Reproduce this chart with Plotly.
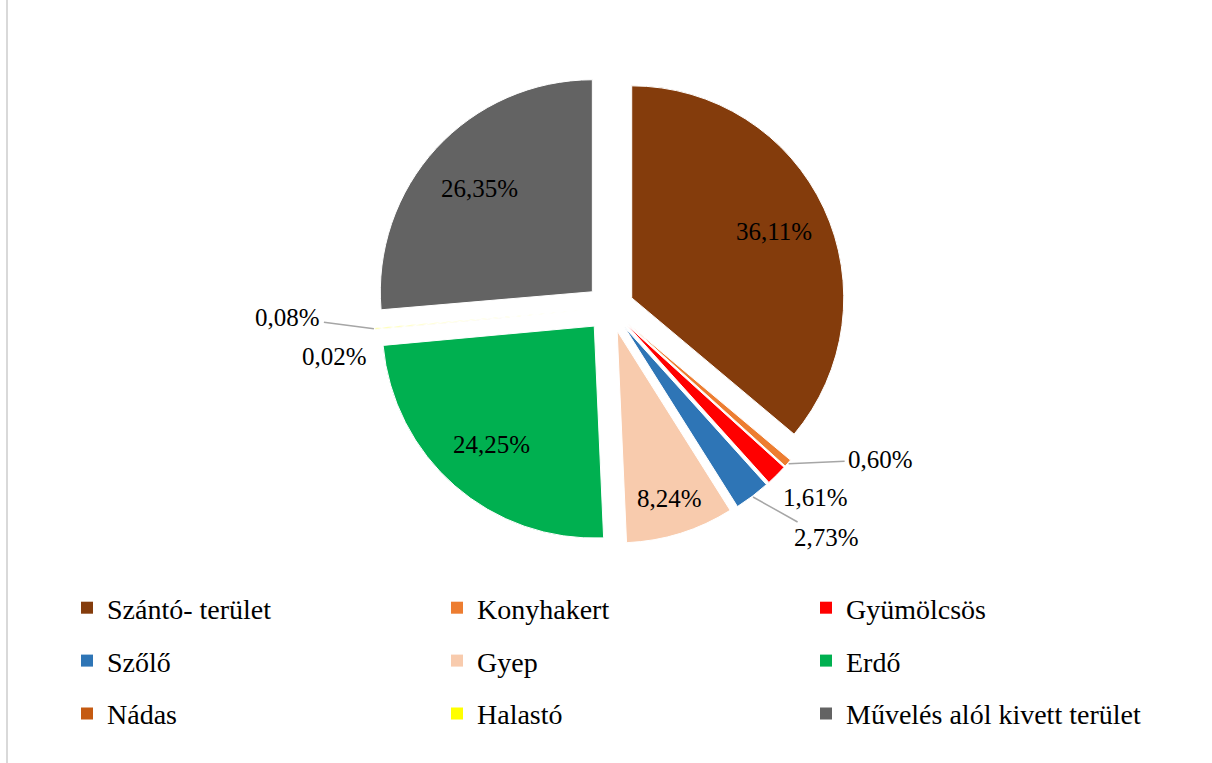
import math
import plotly.graph_objects as go

# land use categories and shares (%)
labels = ["Szántó- terület", "Konyhakert", "Gyümölcsös", "Szőlő", "Gyep", "Erdő",
          "Nádas", "Halastó", "Művelés alól kivett terület"]
values = [36.11, 0.60, 1.61, 2.73, 8.24, 24.25, 0.02, 0.08, 26.35]
colors = ["#843C0C", "#ED7D31", "#FF0000", "#2E75B6", "#F8CBAD", "#00B050",
          "#C55A11", "#FFFF00", "#636363"]

texts = [f"{v:.2f}".replace(".", ",") + "%" for v in values]

FONT = "Liberation Serif"
W, H = 1212, 763
PULL = 0.113
# pie box in pixels
X0, X1, Y0, Y1 = 374, 846, 72, 544
CX, CY = (X0 + X1) / 2, (Y0 + Y1) / 2
R = (X1 - X0) / (2 + 2 * PULL)

# label placement: inside ones by radius fraction, outside ones by pixel offset from slice tip
inside_r = {0: 0.74, 4: 0.83, 5: 0.74, 8: 0.72}
outside_off = {1: (92, -4, True), 2: (38, 22, False), 3: (73, 41, True),
               6: (-39, 27, False), 7: (-86, -11, True)}

fig = go.Figure()

fig.add_trace(go.Pie(
    labels=labels, values=values, text=texts, textinfo="none",
    marker=dict(colors=colors, line=dict(color="white", width=1)),
    sort=False, direction="clockwise", rotation=0,
    pull=[PULL] * len(values),
    domain=dict(x=[X0 / W, X1 / W], y=[1 - Y1 / H, 1 - Y0 / H]),
    showlegend=False, hoverinfo="label+text",
))

annotations = []
total = sum(values)
cum = 0
for i, v in enumerate(values):
    a = math.radians((cum + v / 2) / total * 360)
    cum += v
    sx, sy = math.sin(a), math.cos(a)
    if i in inside_r:
        d = R * PULL + R * inside_r[i]
        px, py = CX + d * sx, CY - d * sy
        annotations.append(dict(x=px / W, y=1 - py / H, xref="paper", yref="paper",
                                xanchor="center", yanchor="middle",
                                text=texts[i], showarrow=False,
                                font=dict(family=FONT, size=25, color="black")))
    else:
        d = R * (1 + PULL) + 1
        px, py = CX + d * sx, CY - d * sy
        ox, oy, arrow = outside_off[i]
        ann = dict(x=px / W, y=1 - py / H, xref="paper", yref="paper",
                   xanchor="center", yanchor="middle",
                   text=texts[i], font=dict(family=FONT, size=25, color="black"))
        if arrow:
            ann.update(showarrow=True, ax=ox, ay=oy, arrowhead=0, arrowwidth=1.5,
                       arrowcolor="#A6A6A6", standoff=0, startstandoff=2)
        else:
            ann.update(showarrow=False, xshift=ox, yshift=-oy)
        annotations.append(ann)

# legend entries, three columns
legend_names = ["legend", "legend2", "legend3"]
for i, (lab, col) in enumerate(zip(labels, colors)):
    fig.add_trace(go.Scatter(
        x=[None], y=[None], mode="markers", name=lab,
        marker=dict(symbol="square", size=12, color=col),
        legend=legend_names[i % 3], legendgroup=lab, showlegend=True,
    ))

leg = dict(orientation="v", yanchor="top", y=1 - 583 / H, bgcolor="rgba(0,0,0,0)",
           font=dict(family=FONT, size=28, color="black"), tracegroupgap=13.5,
           itemclick=False)
fig.update_layout(
    width=W, height=H,
    margin=dict(l=0, r=0, t=0, b=0),
    paper_bgcolor="white", plot_bgcolor="white",
    xaxis=dict(visible=False), yaxis=dict(visible=False),
    legend=dict(leg, x=67 / W, xanchor="left"),
    legend2=dict(leg, x=437 / W, xanchor="left"),
    legend3=dict(leg, x=806 / W, xanchor="left"),
    annotations=annotations,
    shapes=[dict(type="line", xref="paper", yref="paper", x0=7 / W, x1=7 / W,
                 y0=0, y1=1, line=dict(color="#D9D9D9", width=2))],
)

fig.write_html("out.html", config={"displayModeBar": False},
               post_script="document.body.style.margin='0';")
